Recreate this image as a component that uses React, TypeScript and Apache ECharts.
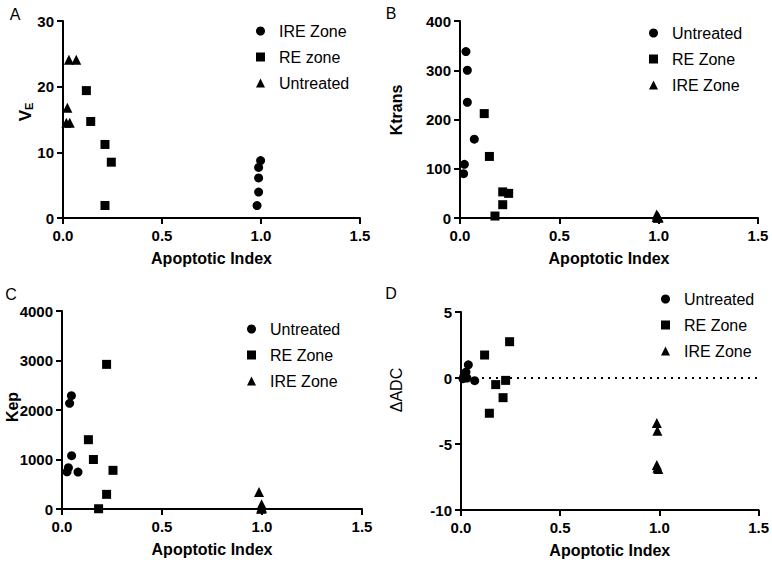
import React, { useEffect, useRef } from "react";
import * as echarts from "echarts";

// Panel A: V_E vs Apoptotic Index
const aIRE = [[0.998, 8.75], [0.988, 7.7], [0.988, 6.1], [0.988, 3.95], [0.98, 1.9]];
const aRE = [[0.118, 19.4], [0.14, 14.7], [0.212, 11.2], [0.244, 8.5], [0.212, 1.9]];
const aUntreated = [[0.03, 24.1], [0.067, 24.1], [0.022, 16.8], [0.017, 14.5], [0.034, 14.5]];

// Panel B: Ktrans
const bUntreated = [[0.03, 338], [0.037, 300], [0.037, 235], [0.072, 160], [0.022, 109], [0.018, 90]];
const bRE = [[0.122, 212], [0.148, 125], [0.215, 53], [0.245, 50], [0.215, 27], [0.176, 4]];
const bIRE = [[0.99, 7], [0.995, 4], [0.99, 2], [1.0, 1], [0.995, 0.5]];

// Panel C: Kep
const cUntreated = [[0.047, 2290], [0.038, 2135], [0.048, 1077], [0.032, 834], [0.025, 750], [0.08, 747]];
const cRE = [[0.223, 2922], [0.132, 1400], [0.157, 1000], [0.255, 781], [0.223, 296], [0.183, 5]];
const cIRE = [[0.985, 343], [0.998, 94], [0.998, 40], [1.0, 15], [0.995, 5]];

// Panel D: ΔADC
const dUntreated = [[0.037, 1.0], [0.025, 0.45], [0.015, 0.15], [0.03, 0.0], [0.01, -0.05], [0.069, -0.2]];
const dRE = [[0.245, 2.75], [0.119, 1.74], [0.175, -0.5], [0.225, -0.18], [0.212, -1.49], [0.143, -2.67]];
const dIRE = [[0.987, -3.4], [0.99, -4.0], [0.987, -6.6], [0.995, -6.9], [0.99, -6.8]];

const xTicks = { min: 0, max: 1.5, interval: 0.5 };
const yScales = [
  { min: 0, max: 30, interval: 10 },
  { min: 0, max: 400, interval: 100 },
  { min: 0, max: 4000, interval: 1000 },
  { min: -10, max: 5, interval: 5 },
];
const xTitle = "Apoptotic Index";
const yTitles = ["{v|V}{s|E}", "Ktrans", "Kep", "ΔADC"];
const panelLetters = ["A", "B", "C", "D"];

const FONT = "'Liberation Sans', Arial, Helvetica, sans-serif";

export default function App() {
  const ref = useRef<HTMLDivElement>(null);
  useEffect(() => {
    if (!ref.current) return;
    const chart = echarts.init(ref.current, undefined, { renderer: "svg" });

    const grids = [
      { left: 63, top: 21, width: 297, height: 197 },
      { left: 460, top: 21, width: 298, height: 197 },
      { left: 62, top: 311, width: 300, height: 198 },
      { left: 461, top: 312, width: 298, height: 198 },
    ];

    const axisCommon = {
      axisLine: { show: true, onZero: false, lineStyle: { color: "#000", width: 2 } },
      axisTick: { show: true, length: 6, lineStyle: { color: "#000", width: 2 } },
      splitLine: { show: false },
    };

    const xAxes = grids.map((_, i) => ({
      type: "value",
      gridIndex: i,
      ...xTicks,
      ...axisCommon,
      axisLabel: {
        color: "#000",
        fontSize: 15,
        fontWeight: "bold",
        fontFamily: FONT,
        margin: 10,
        formatter: (v: number) => v.toFixed(1),
      },
      name: xTitle,
      nameLocation: "middle",
      nameGap: 32,
      nameTextStyle: { color: "#000", fontSize: 16, fontWeight: "bold", fontFamily: FONT },
    }));

    const yAxes = grids.map((_, i) => ({
      type: "value",
      gridIndex: i,
      ...yScales[i],
      ...axisCommon,
      axisLabel: {
        color: "#000",
        fontSize: 15,
        fontWeight: "bold",
        fontFamily: FONT,
        margin: 9,
        formatter: (v: number) => String(v),
      },
    }));

    const sym = (name: string, data: number[][], idx: number, symbol: string) => ({
      type: "scatter",
      name,
      xAxisIndex: idx,
      yAxisIndex: idx,
      data,
      symbol,
      symbolSize: symbol === "triangle" ? 10 : 9,
      itemStyle: { color: "#000", opacity: 1 },
    });

    const series: any[] = [
      sym("IRE Zone", aIRE, 0, "circle"),
      sym("RE zone", aRE, 0, "rect"),
      sym("Untreated", aUntreated, 0, "triangle"),
      sym("Untreated", bUntreated, 1, "circle"),
      sym("RE Zone", bRE, 1, "rect"),
      sym("IRE Zone", bIRE, 1, "triangle"),
      sym("Untreated", cUntreated, 2, "circle"),
      sym("RE Zone", cRE, 2, "rect"),
      sym("IRE Zone", cIRE, 2, "triangle"),
      sym("Untreated", dUntreated, 3, "circle"),
      sym("RE Zone", dRE, 3, "rect"),
      sym("IRE Zone", dIRE, 3, "triangle"),
    ];
    series[9].markLine = {
      silent: true,
      symbol: "none",
      label: { show: false },
      lineStyle: { color: "#000", width: 2, type: [2, 5], opacity: 1 },
      data: [{ yAxis: 0 }],
    };

    const legendItems = [
      [["IRE Zone", "circle"], ["RE zone", "rect"], ["Untreated", "triangle"]],
      [["Untreated", "circle"], ["RE Zone", "rect"], ["IRE Zone", "triangle"]],
      [["Untreated", "circle"], ["RE Zone", "rect"], ["IRE Zone", "triangle"]],
      [["Untreated", "circle"], ["RE Zone", "rect"], ["IRE Zone", "triangle"]],
    ];
    const legendPos = [
      { left: 256, top: 23 },
      { left: 649, top: 25 },
      { left: 247, top: 321 },
      { left: 661, top: 291 },
    ];
    const legends = legendItems.map((items, i) => ({
      orient: "vertical",
      ...legendPos[i],
      itemWidth: 9,
      itemHeight: 9,
      itemGap: 10,
      selectedMode: false,
      padding: 0,
      textStyle: { color: "#000", fontSize: 16, fontFamily: FONT, padding: [0, 0, 0, 9] },
      data: items.map(([name, icon]) => ({
        name,
        icon,
        itemStyle: { color: "#000", opacity: 1 },
      })),
    }));

    const titlePos = [
      [25, 112],
      [396, 110],
      [12, 407],
      [396, 390],
    ];
    const letterPos = [
      [15, 14],
      [391, 13],
      [11, 294],
      [391, 293],
    ];

    const graphic: any[] = [];
    yTitles.forEach((t, i) => {
      graphic.push({
        type: "text",
        x: titlePos[i][0],
        y: titlePos[i][1],
        rotation: Math.PI / 2,
        style: {
          text: t,
          fill: "#000",
          font: `${i === 3 ? "normal" : "bold"} 16px ${FONT}`,
          align: "center",
          verticalAlign: "middle",
          rich: {
            v: { fontSize: 17, fontWeight: "bold", fontFamily: FONT, fill: "#000" },
            s: { fontSize: 11, fontWeight: "bold", fontFamily: FONT, fill: "#000", padding: [8, 0, 0, 0] },
          },
        },
      });
    });
    panelLetters.forEach((l, i) => {
      graphic.push({
        type: "text",
        x: letterPos[i][0],
        y: letterPos[i][1],
        style: {
          text: l,
          fill: "#000",
          font: `16px ${FONT}`,
          align: "center",
          verticalAlign: "middle",
        },
      });
    });

    chart.setOption({
      animation: false,
      backgroundColor: "#fff",
      textStyle: { fontFamily: FONT },
      grid: grids,
      xAxis: xAxes,
      yAxis: yAxes,
      legend: legends,
      series,
      graphic,
    });
    return () => chart.dispose();
  }, []);

  return (
    <div
      ref={ref}
      style={{ position: "absolute", left: 0, top: 0, width: 772, height: 562, background: "#fff" }}
    />
  );
}
